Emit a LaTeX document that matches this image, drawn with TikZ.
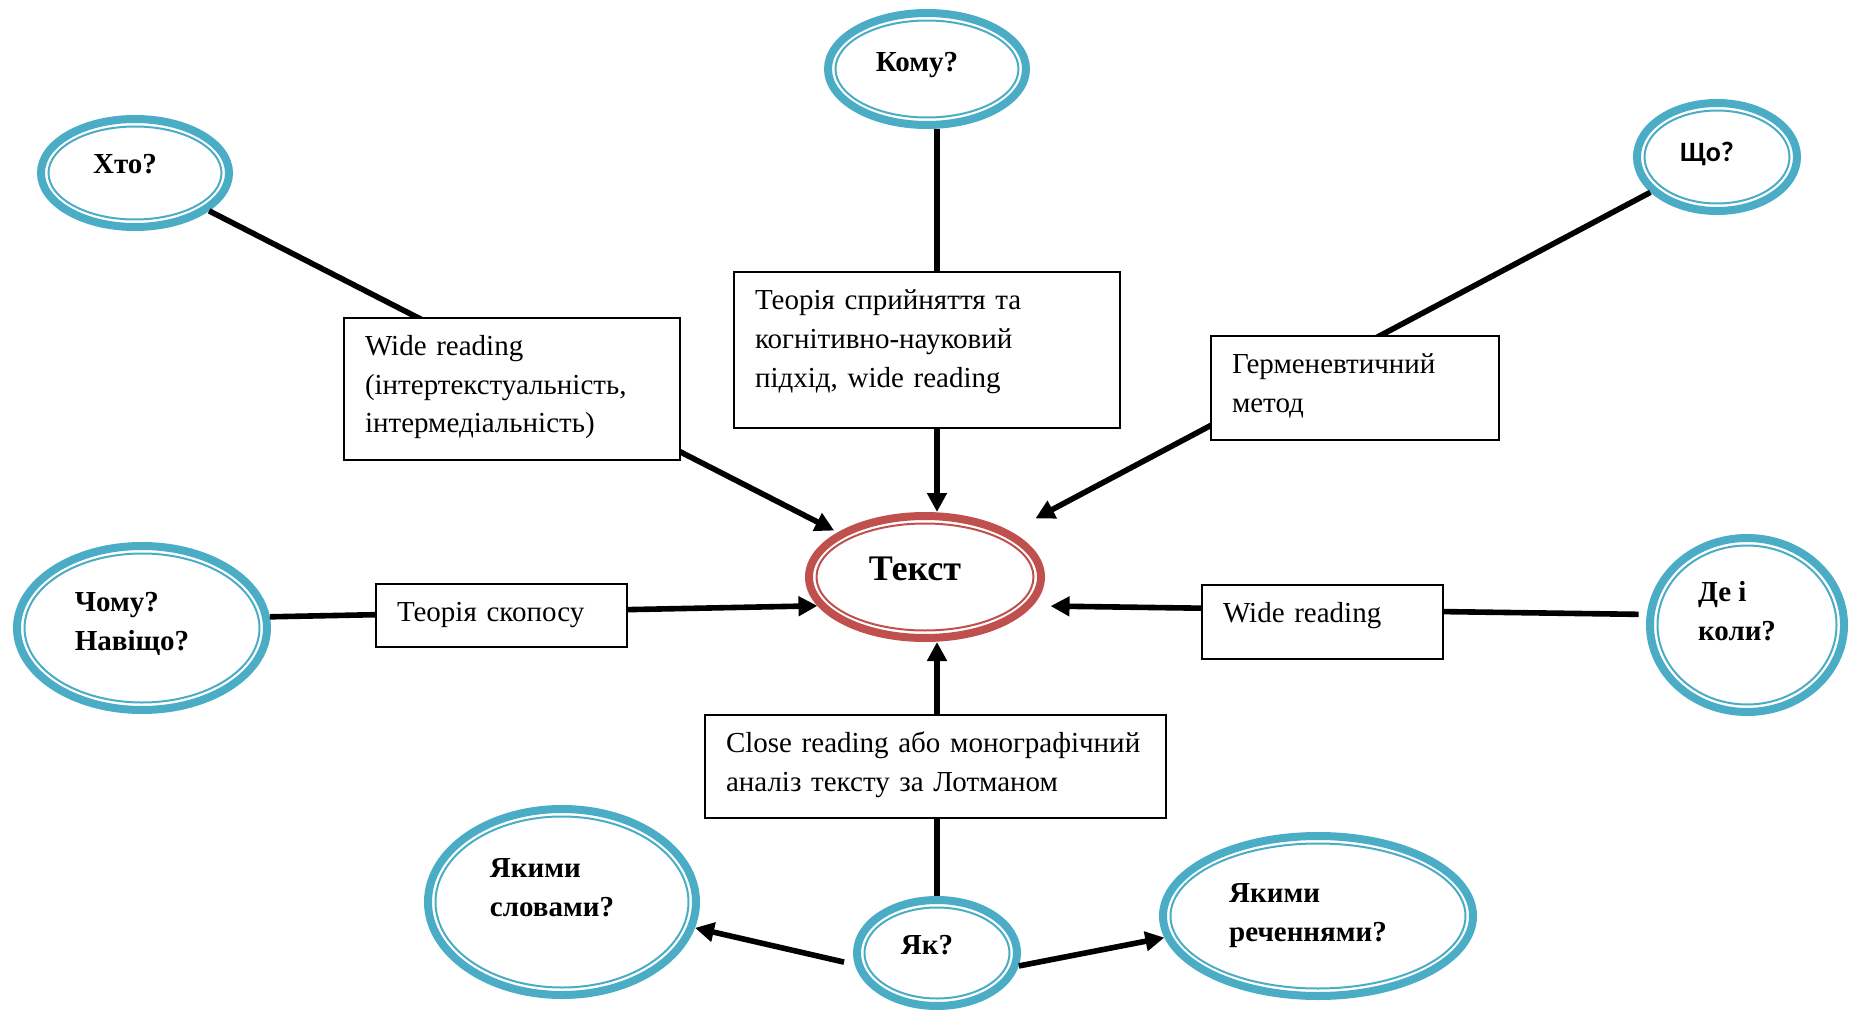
\documentclass[tikz,border=0pt]{standalone}
\usepackage{fontspec}
\setmainfont{Liberation Serif}
\newfontfamily\sansq{Carlito}
\usetikzlibrary{arrows.meta, shapes.geometric, calc}
\definecolor{RingBlue}{HTML}{4BACC6}
\definecolor{RingRed}{HTML}{C0504D}
% question text, set a little left and up inside its ring
\newcommand\qtext[2][6pt]{\begin{tabular}{@{}l@{}}#2\\[#1]\end{tabular}\hspace*{10pt}}

\tikzset{
  qnode/.style={ellipse, draw=RingBlue, line width=4pt, inner sep=1pt, outer sep=2pt,
    font=\fontsize{14.5}{19.5}\selectfont\bfseries},
  mainnode/.style={qnode, draw=RingRed, font=\fontsize{18}{22}\selectfont\bfseries},
  tbox/.style={draw, line width=0.8pt, fill=white, anchor=north west, align=left,
    inner xsep=10.5pt, inner ysep=0pt, outer sep=0pt, text height=18.5pt,
    font=\fontsize{14.5}{19.5}\selectfont},
  link/.style={line width=2.8pt},
  arr/.style={link, -{Triangle[length=9.5pt, width=9.5pt]}}
}

\begin{document}
\begin{tikzpicture}[x=0.5pt, y=-0.5pt]
  \useasboundingbox (0,0) rectangle (1849,1011);

  % --- question ellipses ---
  \node[qnode, minimum width=94pt, minimum height=54pt] (who) at (135,173) {\qtext[7pt]{Хто?}};
  \node[qnode, minimum width=99pt, minimum height=56pt] (whom) at (927,69) {\qtext[5pt]{Кому?}};
  \node[qnode, minimum width=80pt, minimum height=54pt,
    font=\sansq\fontsize{14}{17}\selectfont\bfseries] (what) at (1717,157) {\qtext[2pt]{Що?}};
  \node[qnode, minimum width=125pt, minimum height=82pt] (why) at (142,628) {\qtext[5pt]{Чому?\\Навіщо?}};
  \node[qnode, minimum width=97pt, minimum height=87pt] (wherewhen) at (1747,625) {\qtext[12pt]{Де і\\коли?}};
  \node[qnode, minimum width=134pt, minimum height=93pt] (words) at (562,902) {\qtext[13pt]{Якими\\словами?}};
  \node[qnode, minimum width=80pt, minimum height=53pt] (how) at (937,953) {\qtext[6pt]{Як?}};
  \node[qnode, minimum width=155pt, minimum height=80pt] (sentences) at (1318,916) {\qtext[2pt]{Якими\\реченнями?}};
  % --- centre ---
  \node[mainnode, minimum width=116pt, minimum height=61pt] (textnode) at (925,577) {\qtext[5pt]{Текст}};

  % inner thin rings
  \foreach \nd/\col in {who/RingBlue, whom/RingBlue, what/RingBlue, why/RingBlue,
      wherewhen/RingBlue, words/RingBlue, how/RingBlue, sentences/RingBlue, textnode/RingRed}
    \draw[\col, line width=1pt] let \p0=(\nd.center), \p1=(\nd.east), \p2=(\nd.north) in
      (\p0) ellipse [x radius={\x1-\x0-5.75pt}, y radius={\y2-\y0-5.75pt}];

  % --- connectors ---
  \draw[arr, shorten >=2pt] (who) -- (textnode);
  \draw[arr] (whom.south -| how) -- (textnode.north -| how);
  \draw[arr, shorten >=14pt] (what) -- (textnode);
  \draw[arr] (why.5) -- (textnode.195);
  \draw[arr, shorten <=4pt, shorten >=9pt] (wherewhen.174) -- (textnode.-15);
  \draw[arr] (how) -- (textnode.south -| how);
  \draw[arr, shorten <=5.5pt] (how.188) -- (words.-11);
  \draw[arr] (how.-9) -- (sentences.188);

  % --- method boxes ---
  \node[tbox, text width=147pt, text depth=52.5pt] (widebox) at (344,318)
    {Wide reading\\(інтертекстуальність,\\інтермедіальність)};
  \node[tbox, text width=172pt, text depth=59.5pt] (percbox) at (734,272)
    {Теорія сприйняття та\\когнітивно-науковий\\підхід, wide reading};
  \node[tbox, text width=123pt, text depth=33.5pt] (hermbox) at (1211,336)
    {Герменевтичний\\метод};
  \node[tbox, text width=104.5pt, text depth=13pt] (skoposbox) at (376,584)
    {Теорія скопосу};
  \node[tbox, text width=99.5pt, text depth=18.5pt] (widebox2) at (1202,585)
    {Wide reading};
  \node[tbox, text width=209.5pt, text depth=33pt] (closebox) at (705,715)
    {Close reading або монографічний\\аналіз тексту за Лотманом};
\end{tikzpicture}
\end{document}
